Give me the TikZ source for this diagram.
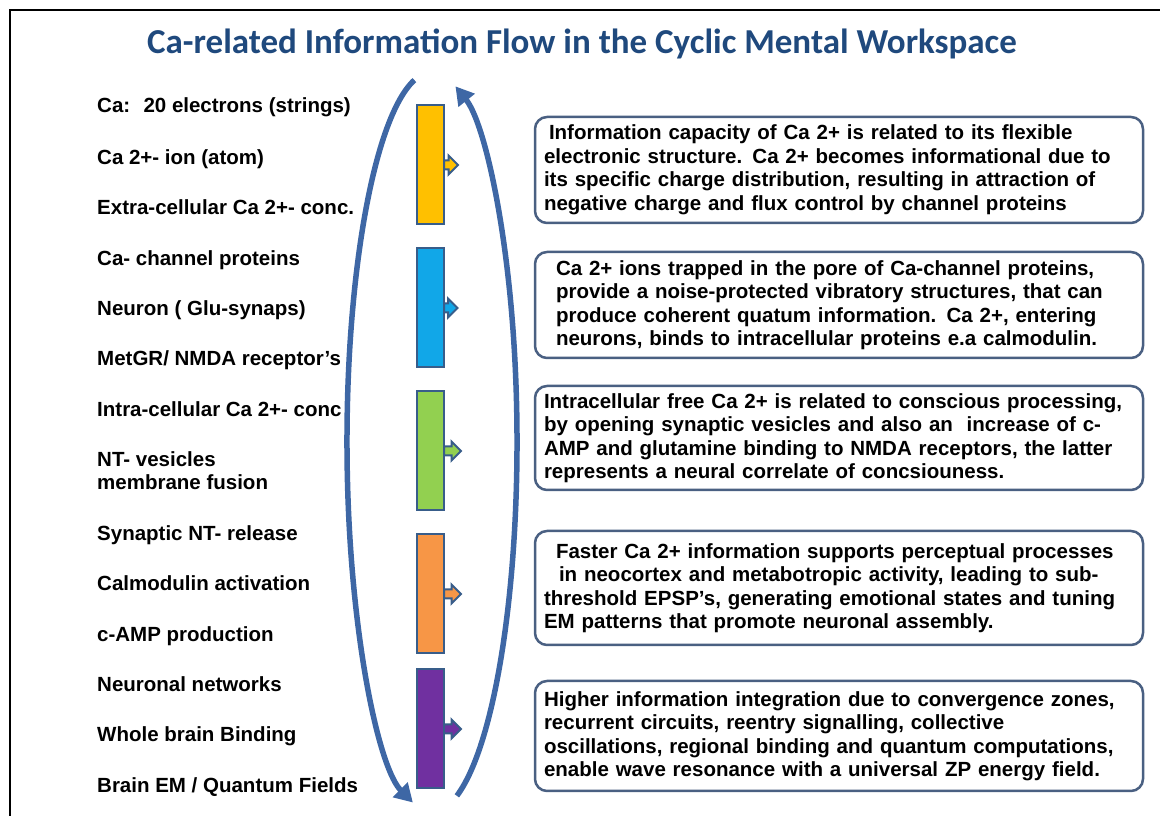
\documentclass[tikz,border=0pt]{standalone}
\usepackage{fontspec}
\setmainfont{Liberation Sans}
\newfontfamily\titlefont{Carlito}
\usepackage{xcolor}
\usetikzlibrary{arrows.meta,positioning,shapes.arrows}
\definecolor{titleblue}{RGB}{31,73,125}
\definecolor{barline}{RGB}{56,93,138}
\definecolor{cycleblue}{RGB}{62,103,165}
\definecolor{boxline}{RGB}{74,96,130}
\definecolor{caYellow}{RGB}{255,192,0}
\definecolor{caBlue}{RGB}{17,167,232}
\definecolor{caGreen}{RGB}{146,208,80}
\definecolor{caOrange}{RGB}{247,150,70}
\definecolor{caPurple}{RGB}{112,48,160}
\tikzset{
  lbl/.style ={anchor=base west, align=left, inner sep=0pt, font=\bfseries\fontsize{20.5}{23}\selectfont},
  bar/.style ={draw=barline, line width=2pt, minimum width=27pt, minimum height=119pt, inner sep=0pt},
  tab/.style ={single arrow, draw=barline, line width=2pt, anchor=west, inner sep=3.5pt, minimum height=17pt, single arrow head extend=5pt, xshift=-1.5pt},
  info/.style={draw=boxline, line width=2.5pt, rounded corners=12pt, fill=white, minimum width=608pt, text width=590pt, align=left, font=\bfseries\fontsize{20.5}{23.5}\selectfont},
  cyc/.style ={draw=cycleblue, line width=5.5pt, -{Triangle[length=18pt,width=20pt]}},
}
\begin{document}
\begin{tikzpicture}[x=1pt, y=1pt]
  \useasboundingbox (0,0) rectangle (1160,816);
  \draw[line width=2.5pt] (10,0) -- (10,806) -- (1160,806);

  \node[font=\titlefont\bfseries\fontsize{35}{40}\selectfont, text=titleblue] (title) at (582,772) {Ca-related Information Flow in the Cyclic Mental Workspace};

  % left column
  \node[lbl] (l1) at (97,703) {Ca: \ 20 electrons (strings)};
  \node[lbl] (l2) at (97,651) {Ca 2+- ion (atom)};
  \node[lbl] (l3) at (97,601) {Extra-cellular Ca 2+- conc.};
  \node[lbl] (l4) at (97,550) {Ca- channel proteins};
  \node[lbl] (l5) at (97,500) {Neuron ( Glu-synaps)};
  \node[lbl] (l6) at (97,450) {MetGR/ NMDA receptor’s};
  \node[lbl] (l7) at (97,399) {Intra-cellular Ca 2+- conc};
  \node[lbl] (l8) at (97,326) {NT- vesicles\\membrane fusion};
  \node[lbl] (l9) at (97,275) {Synaptic NT- release};
  \node[lbl] (l10) at (97,225) {Calmodulin activation};
  \node[lbl] (l11) at (97,174) {c-AMP production};
  \node[lbl] (l12) at (97,124) {Neuronal networks};
  \node[lbl] (l13) at (97,74) {Whole brain Binding};
  \node[lbl] (l14) at (97,23) {Brain EM / Quantum Fields};

  % cycle
  \coordinate (hub) at (432,374);
  \draw[cyc] ([shift={(102:85pt and 370pt)}]hub) arc[start angle=102, end angle=257, x radius=85pt, y radius=370pt];
  \draw[cyc] ([shift={(-73:85pt and 370pt)}]hub) arc[start angle=-73, end angle=74, x radius=85pt, y radius=370pt];

  % bars
  \node[bar, fill=caYellow] (yel) at (430,651) {};
  \node[bar, fill=caBlue, below=22pt of yel] (blu) {};
  \node[bar, fill=caGreen, below=22pt of blu] (grn) {};
  \node[bar, fill=caOrange, below=22pt of grn] (org) {};
  \node[bar, fill=caPurple, below=14pt of org] (pur) {};
  \node[tab, fill=caYellow, minimum height=14pt] (yelTab) at (yel.east) {};
  \node[tab, fill=caBlue, minimum height=12pt] (bluTab) at (blu.east) {};
  \node[tab, fill=caGreen] (grnTab) at (grn.east) {};
  \node[tab, fill=caOrange] (orgTab) at (org.east) {};
  \node[tab, fill=caPurple] (purTab) at (pur.east) {};

  % right column
  \node[info, minimum height=106pt] (t1) at (839,646) {\hspace*{5pt}Information capacity of Ca 2+ is related to its flexible\\electronic structure. Ca 2+ becomes informational due to\\its specific charge distribution, resulting in attraction of\\negative charge and flux control by channel proteins};
  \node[info, minimum height=106pt] (t2) at (839,511) {\hspace*{12pt}Ca 2+ ions trapped in the pore of Ca-channel proteins,\\\hspace*{12pt}provide a noise-protected vibratory structures, that can\\\hspace*{12pt}produce coherent quatum information. Ca 2+, entering\\\hspace*{12pt}neurons, binds to intracellular proteins e.a calmodulin.};
  \node[info, minimum height=104pt] (t3) at (839,378) {Intracellular free Ca 2+ is related to conscious processing,\\by opening synaptic vesicles and also an \ increase of c-\\AMP and glutamine binding to NMDA receptors, the latter\\represents a neural correlate of concsiouness.};
  \node[info, minimum height=114pt] (t4) at (839,228) {\hspace*{12pt}Faster Ca 2+ information supports perceptual processes\\\hspace*{15pt}in neocortex and metabotropic activity, leading to sub-\\threshold EPSP’s, generating emotional states and tuning\\EM patterns that promote neuronal assembly.};
  \node[info, minimum height=110pt] (t5) at (839,80) {Higher information integration due to convergence zones,\\recurrent circuits, reentry signalling, collective\\oscillations, regional binding and quantum computations,\\enable wave resonance with a universal ZP energy field.};
\end{tikzpicture}
\end{document}
